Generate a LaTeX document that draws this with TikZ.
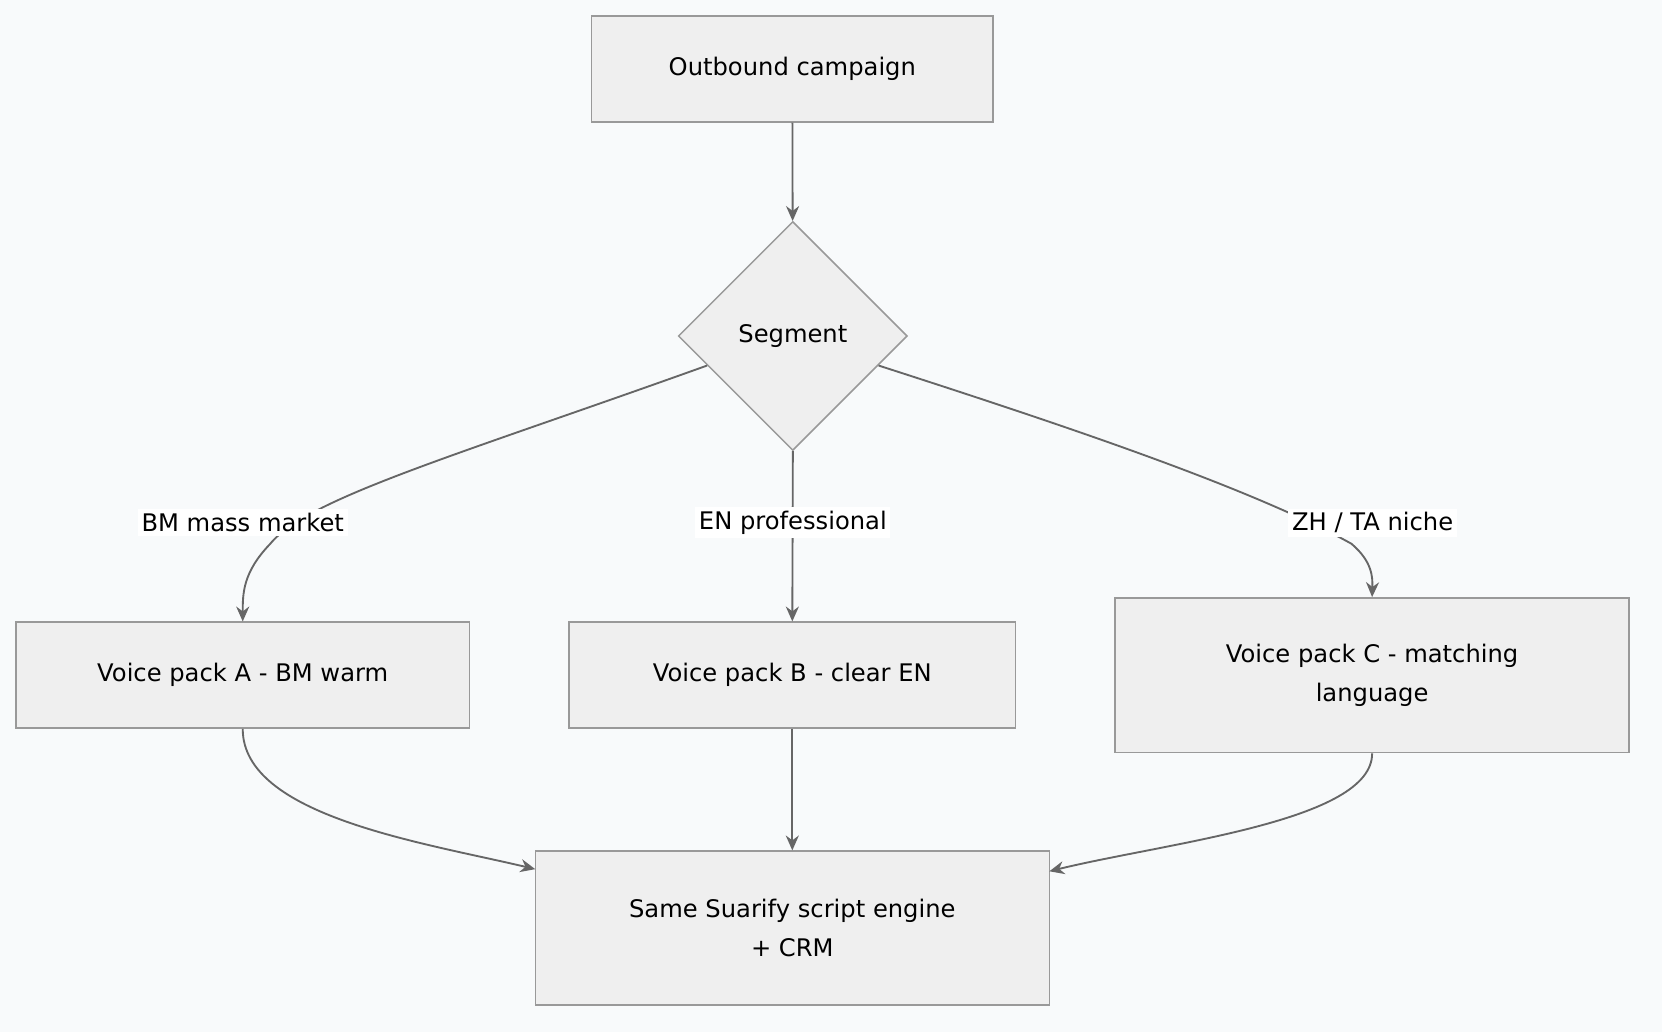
\documentclass[tikz,border=0pt]{standalone}
\usepackage{fontspec}
\setmainfont{DejaVu Sans}
\usetikzlibrary{shapes.geometric,arrows.meta}
\definecolor{bgc}{HTML}{F8FAFB}
\definecolor{boxc}{HTML}{EFEFEF}
\definecolor{edgec}{HTML}{999999}
\definecolor{linec}{HTML}{666666}

\begin{document}
\begin{tikzpicture}[x = 0.02cm, y = -0.02cm,
                      every node/.style = {font = \fontsize{13}{21}\selectfont},
                      box/.style = {rectangle, draw = edgec, fill = boxc, line width = 0.8pt, align = center, inner sep = 0pt},
                      choice/.style = {diamond, draw = edgec, fill = boxc, line width = 0.8pt, inner sep = 0pt, minimum width = 216*0.02cm, minimum height = 216*0.02cm},
                      tag/.style = {fill = white, inner sep = 2pt},
                      link/.style = {draw = linec, line width = 1pt, -{Stealth[length = 8pt, width = 7pt]}}]
    \fill [bgc] (0, 0) rectangle (1568, 974);
    \useasboundingbox (0, 0) rectangle (1568, 974);

    \node [box, minimum width = 379*0.02cm, minimum height = 100*0.02cm] (out) at (747.5, 65){Outbound campaign};
    \node [choice] (seg) at (748, 317){Segment};
    \node [box, minimum width = 428*0.02cm, minimum height = 100*0.02cm] (pa) at (229, 637){Voice pack A - BM warm};
    \node [box, minimum width = 421*0.02cm, minimum height = 100*0.02cm] (pb) at (747.5, 637){Voice pack B - clear EN};
    \node [box, minimum width = 485*0.02cm, minimum height = 146*0.02cm] (pc) at (1294.5, 637){Voice pack C - matching\\language};
    \node [box, minimum width = 485*0.02cm, minimum height = 145*0.02cm] (eng) at (747.5, 875.5){Same Suarify script engine\\+ CRM};

    \coordinate (engl) at (505, 820);
    \coordinate (engr) at (990, 822);

    \draw [link] (out) -- (seg);
    \draw [link] (seg.199) .. controls (430, 430) and (290, 470) .. (255, 513)
                 .. controls (229, 540) and (229, 560) .. (pa.north);
    \draw [link] (seg.south) -- (pb.north);
    \draw [link] (seg.-19) .. controls (1000, 400) and (1180, 460) .. (1275, 513)
                 .. controls (1295, 530) and (1295, 545) .. (pc.north);
    \draw [link] (pa.south) .. controls (229, 770) and (400, 795) .. (engl);
    \draw [link] (pb.south) -- (eng.north);
    \draw [link] (pc.south) .. controls (1295, 775) and (1100, 795) .. (engr);

    \node [tag] (la) at (229, 493){BM mass market};
    \node [tag] (lb) at (748, 493){EN professional};
    \node [tag] (lc) at (1295, 493){ZH / TA niche};
\end{tikzpicture}
\end{document}
